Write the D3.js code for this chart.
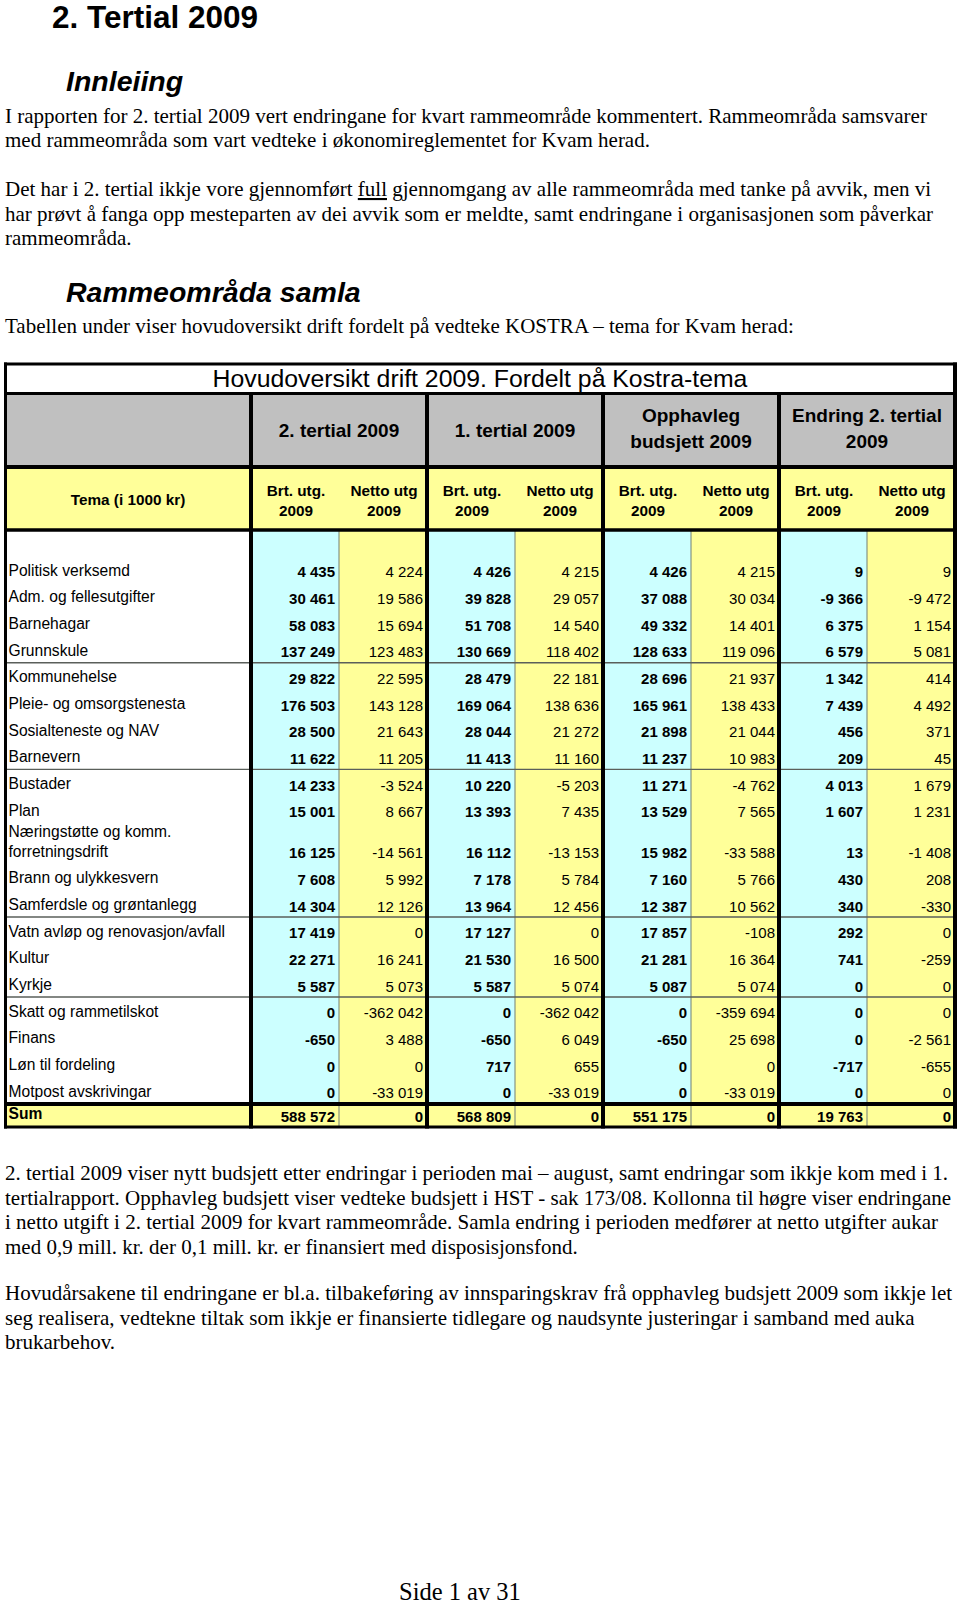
<!DOCTYPE html>
<html><head><meta charset="utf-8">
<script src="https://cdn.jsdelivr.net/npm/d3@7"></script>
<style>body{margin:0;background:#fff}svg{display:block}</style>
</head><body><svg id="page" width="960" height="1604"></svg>
<script>
// ---------- DATA ----------
const categories = [
  "Politisk verksemd","Adm. og fellesutgifter","Barnehagar","Grunnskule",
  "Kommunehelse","Pleie- og omsorgstenesta","Sosialteneste og NAV","Barnevern",
  "Bustader","Plan","Næringstøtte og komm.\nforretningsdrift","Brann og ulykkesvern",
  "Samferdsle og grøntanlegg","Vatn avløp og renovasjon/avfall","Kultur","Kyrkje",
  "Skatt og rammetilskot","Finans","Løn til fordeling","Motpost avskrivingar"
];
const groupBreaks = [4, 8, 13, 16];
const groupHeaders = ["2. tertial 2009", "1. tertial 2009", "Opphavleg\nbudsjett 2009", "Endring 2. tertial\n2009"];
const subHeaders = ["Brt. utg.\n2009", "Netto utg\n2009"];
const tableTitle = "Hovudoversikt drift 2009. Fordelt på Kostra-tema";
const temaLabel = "Tema (i 1000 kr)";
const sumLabel = "Sum";

const brt2 = [4435,30461,58083,137249,29822,176503,28500,11622,14233,15001,16125,7608,14304,17419,22271,5587,0,-650,0,0];
const net2 = [4224,19586,15694,123483,22595,143128,21643,11205,-3524,8667,-14561,5992,12126,0,16241,5073,-362042,3488,0,-33019];
const brt1 = [4426,39828,51708,130669,28479,169064,28044,11413,10220,13393,16112,7178,13964,17127,21530,5587,0,-650,717,0];
const net1 = [4215,29057,14540,118402,22181,138636,21272,11160,-5203,7435,-13153,5784,12456,0,16500,5074,-362042,6049,655,-33019];
const brtO = [4426,37088,49332,128633,28696,165961,21898,11237,11271,13529,15982,7160,12387,17857,21281,5087,0,-650,0,0];
const netO = [4215,30034,14401,119096,21937,138433,21044,10983,-4762,7565,-33588,5766,10562,-108,16364,5074,-359694,25698,0,-33019];
const brtE = [9,-9366,6375,6579,1342,7439,456,209,4013,1607,13,430,340,292,741,0,0,0,-717,0];
const netE = [9,-9472,1154,5081,414,4492,371,45,1679,1231,-1408,208,-330,0,-259,0,0,-2561,-655,0];
const sums = [588572,0,568809,0,551175,0,19763,0];

const heading = "2. Tertial 2009";
const sub1 = "Innleiing";
const sub2 = "Rammeområda samla";
const introLines = [
  "I rapporten for 2. tertial 2009 vert endringane for kvart rammeområde kommentert. Rammeområda samsvarer",
  "med rammeområda som vart vedteke i økonomireglementet for Kvam herad."
];
const para2Lines = [
  ["Det har i 2. tertial ikkje vore gjennomført ", "full", " gjennomgang av alle rammeområda med tanke på avvik, men vi"],
  ["har prøvt å fanga opp mesteparten av dei avvik som er meldte, samt endringane i organisasjonen som påverkar"],
  ["rammeområda."]
];
const tableIntro = "Tabellen under viser hovudoversikt drift fordelt på vedteke KOSTRA – tema for Kvam herad:";
const afterLines1 = [
  "2. tertial 2009 viser nytt budsjett etter endringar i perioden mai – august, samt endringar som ikkje kom med i 1.",
  "tertialrapport. Opphavleg budsjett viser vedteke budsjett i HST - sak 173/08. Kollonna til høgre viser endringane",
  "i netto utgift i 2. tertial 2009 for kvart rammeområde. Samla endring i perioden medfører at netto utgifter aukar",
  "med 0,9 mill. kr. der 0,1 mill. kr. er finansiert med disposisjonsfond."
];
const afterLines2 = [
  "Hovudårsakene til endringane er bl.a. tilbakeføring av innsparingskrav frå opphavleg budsjett 2009 som ikkje let",
  "seg realisera, vedtekne tiltak som ikkje er finansierte tidlegare og naudsynte justeringar i samband med auka",
  "brukarbehov."
];
const footer = "Side 1 av 31";

// ---------- DRAW ----------
const series = [brt2, net2, brt1, net1, brtO, netO, brtE, netE];
const SANS = "'Liberation Sans', Arial, sans-serif";
const SERIF = "'Liberation Serif', 'Times New Roman', serif";
const CYAN = "#ccffff", YEL = "#ffff99", GREY = "#c0c0c0";
const fmt = d3.formatLocale({decimal: ",", thousands: "\u00a0", grouping: [3], currency: ["", ""], minus: "-"}).format(",d");

const svg = d3.select("#page");
svg.append("rect").attr("width", 960).attr("height", 1604).attr("fill", "#fff");

// text blocks
function serifLine(y, content, x = 5) {
  const t = svg.append("text").attr("x", x).attr("y", y)
    .attr("font-family", SERIF).attr("font-size", 21).attr("fill", "#000");
  if (Array.isArray(content)) {
    content.forEach((c, i) => {
      const ts = t.append("tspan").text(c);
      if (content.length === 3 && i === 1) ts.attr("text-decoration", "underline");
    });
  } else t.text(content);
  return t;
}
svg.append("text").attr("x", 52).attr("y", 28).attr("font-family", SANS).attr("font-weight", "bold")
  .attr("font-size", 31.5).text(heading);
svg.append("text").attr("x", 66).attr("y", 91).attr("font-family", SANS).attr("font-weight", "bold")
  .attr("font-style", "italic").attr("font-size", 28.5).text(sub1);
introLines.forEach((l, i) => serifLine(122.5 + i * 24.5, l));
para2Lines.forEach((l, i) => serifLine(196 + i * 24.5, l));
svg.append("text").attr("x", 66).attr("y", 302).attr("font-family", SANS).attr("font-weight", "bold")
  .attr("font-style", "italic").attr("font-size", 28.5).text(sub2);
serifLine(333, tableIntro);
afterLines1.forEach((l, i) => serifLine(1180 + i * 24.5, l));
afterLines2.forEach((l, i) => serifLine(1300 + i * 24.5, l));
svg.append("text").attr("x", 399).attr("y", 1600).attr("font-family", SERIF).attr("font-size", 24.5).text(footer);

// ---------- TABLE ----------
const L = 4, R = 957, TOP = 362.5;
const groupX = d3.scaleLinear().domain([0, 4]).range([251, 955]);
const subX = d3.scaleBand().domain(d3.range(8)).range([251, 955]);
const titleBottom = 393.5, greyBottom = 467, yelBottom = 530, dataTop = 556;

const heights = categories.map(c => c.includes("\n") ? 41 : 26.67);
const tops = [dataTop, ...d3.cumsum(heights).map(h => dataTop + h)];
const rowY = d3.scaleOrdinal().domain(d3.range(categories.length)).range(tops);
const dataBottom = tops[categories.length];
const sumTop = dataBottom, sumBottom = 1127;

const g = svg.append("g");
// fills
g.append("rect").attr("x", L).attr("y", TOP).attr("width", R - L).attr("height", titleBottom - TOP).attr("fill", "#fff");
g.append("rect").attr("x", L).attr("y", titleBottom).attr("width", R - L).attr("height", greyBottom - titleBottom).attr("fill", GREY);
g.append("rect").attr("x", L).attr("y", greyBottom).attr("width", R - L).attr("height", yelBottom - greyBottom).attr("fill", YEL);
g.append("rect").attr("x", L).attr("y", yelBottom).attr("width", 251 - L).attr("height", dataBottom - yelBottom).attr("fill", "#fff");
g.selectAll("rect.col").data(d3.range(8)).join("rect").attr("class", "col")
  .attr("x", d => subX(d)).attr("y", yelBottom).attr("width", subX.bandwidth())
  .attr("height", dataBottom - yelBottom).attr("fill", d => d % 2 === 0 ? CYAN : YEL);
g.append("rect").attr("x", L).attr("y", sumTop).attr("width", R - L).attr("height", sumBottom - sumTop).attr("fill", YEL);

// thin vertical dividers between Brt/Netto
g.selectAll("line.thinv").data(d3.range(4)).join("line").attr("class", "thinv")
  .attr("x1", d => subX(d * 2 + 1)).attr("x2", d => subX(d * 2 + 1))
  .attr("y1", yelBottom).attr("y2", sumBottom)
  .attr("stroke", "#7d8a7d").attr("stroke-width", 1.1);
// group horizontal lines
g.selectAll("line.grp").data(groupBreaks).join("line").attr("class", "grp")
  .attr("x1", L).attr("x2", R).attr("y1", d => rowY(d)).attr("y2", d => rowY(d))
  .attr("stroke", "#5a5f5a").attr("stroke-width", 1.4);

// thick lines
const hThick = [[TOP + 1.5, 3], [titleBottom, 3.2], [greyBottom, 4], [yelBottom, 3.4], [dataBottom + 0.3, 4], [sumBottom, 3]];
g.selectAll("line.ht").data(hThick).join("line").attr("class", "ht")
  .attr("x1", L).attr("x2", R).attr("y1", d => d[0]).attr("y2", d => d[0])
  .attr("stroke", "#000").attr("stroke-width", d => d[1]);
g.append("line").attr("x1", 5.5).attr("x2", 5.5).attr("y1", TOP).attr("y2", sumBottom + 1.5)
  .attr("stroke", "#000").attr("stroke-width", 3);
g.selectAll("line.vt").data(d3.range(5)).join("line").attr("class", "vt")
  .attr("x1", d => groupX(d)).attr("x2", d => groupX(d))
  .attr("y1", d => d === 4 ? TOP : titleBottom).attr("y2", sumBottom + 1.5)
  .attr("stroke", "#000").attr("stroke-width", 4);

// header texts
g.append("text").attr("x", 480).attr("y", 386.5).attr("text-anchor", "middle")
  .attr("font-family", SANS).attr("font-size", 24.8).text(tableTitle);
groupHeaders.forEach((h, i) => {
  const lines = h.split("\n");
  const cx = (groupX(i) + groupX(i + 1)) / 2;
  const ys = lines.length === 1 ? [436.5] : [422, 447.5];
  lines.forEach((ln, j) => g.append("text").attr("x", cx).attr("y", ys[j]).attr("text-anchor", "middle")
    .attr("font-family", SANS).attr("font-weight", "bold").attr("font-size", 19).text(ln));
});
g.append("text").attr("x", 128).attr("y", 504.5).attr("text-anchor", "middle")
  .attr("font-family", SANS).attr("font-weight", "bold").attr("font-size", 15.3).text(temaLabel);
d3.range(8).forEach(k => {
  const lines = subHeaders[k % 2].split("\n");
  const cx = subX(k) + subX.bandwidth() / 2 + 1;
  lines.forEach((ln, j) => g.append("text").attr("x", cx).attr("y", 495.5 + j * 20).attr("text-anchor", "middle")
    .attr("font-family", SANS).attr("font-weight", "bold").attr("font-size", 15.3).text(ln));
});

// row labels
categories.forEach((c, i) => {
  const bottom = rowY(i) + heights[i];
  const lines = c.split("\n");
  lines.forEach((ln, j) => g.append("text").attr("x", 8.5)
    .attr("y", bottom - 7 - (lines.length - 1 - j) * 19.5)
    .attr("font-family", SANS).attr("font-size", 15.6).text(ln));
});
// values
series.forEach((s, k) => {
  g.selectAll(null).data(s).join("text")
    .attr("x", subX(k) + subX.bandwidth() - 4)
    .attr("y", (d, i) => rowY(i) + heights[i] - 5.5)
    .attr("text-anchor", "end").attr("font-family", SANS).attr("font-size", 15)
    .attr("font-weight", k % 2 === 0 ? "bold" : "normal")
    .text(d => fmt(d));
});
// sum row
g.append("text").attr("x", 8.5).attr("y", 1119).attr("font-family", SANS).attr("font-weight", "bold")
  .attr("font-size", 15.6).text(sumLabel);
g.selectAll("text.sum").data(sums).join("text").attr("class", "sum")
  .attr("x", (d, k) => subX(k) + subX.bandwidth() - 4).attr("y", 1121.5)
  .attr("text-anchor", "end").attr("font-family", SANS).attr("font-size", 15).attr("font-weight", "bold")
  .text(d => fmt(d));
</script>
</body></html>
